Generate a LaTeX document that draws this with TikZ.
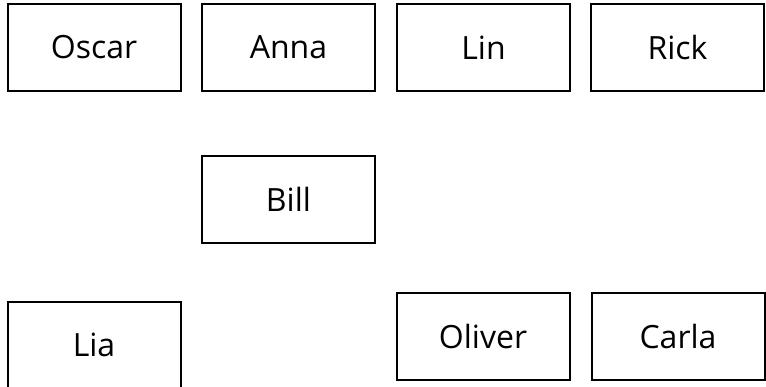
\documentclass[tikz,border=0pt]{standalone}
\usepackage{fontspec}
\setmainfont{Open Sans}
\usepackage{tikz}
\usetikzlibrary{positioning}

\begin{document}
\begin{tikzpicture}[
			x=1pt, y=-1pt,
			font=\fontsize{32}{38}\selectfont,
			caixa/.style={draw, line width=2pt, minimum width=173pt, minimum height=87pt, inner sep=0pt, align=center}
		]
		\useasboundingbox (0,0) rectangle (766,386);

		\node[caixa] (oscar) at (94,47.5) {Oscar};
		\node[caixa] (anna) at (288.5,47.5) {Anna};
		\node[caixa] (lin) at (483.5,47.5) {Lin};
		\node[caixa] (rick) at (677.5,47.5) {Rick};

		\node[caixa] (bill) at (288.5,199.5) {Bill};

		\node[caixa] (lia) at (94,345) {Lia};
		\node[caixa] (oliver) at (483,336) {Oliver};
		\node[caixa] (carla) at (678,336) {Carla};
	\end{tikzpicture}
\end{document}
